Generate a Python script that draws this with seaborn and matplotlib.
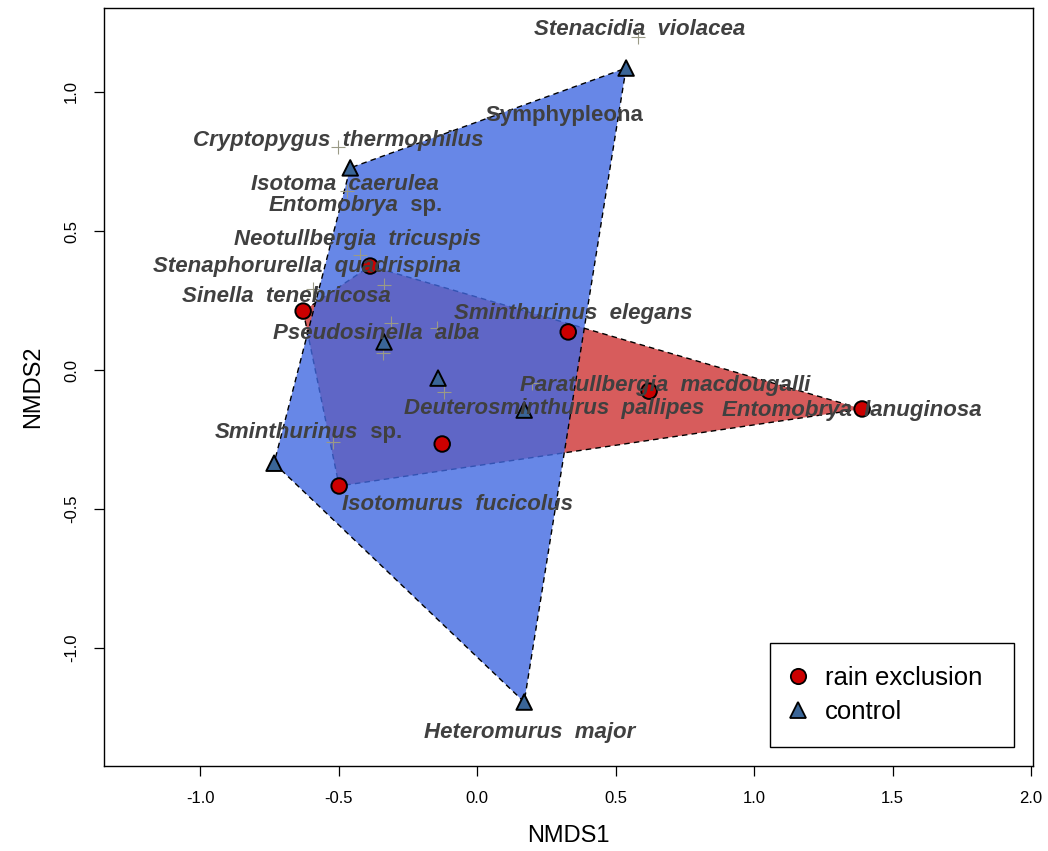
import numpy as np
import pandas as pd
import matplotlib
matplotlib.use("Agg")
import matplotlib.pyplot as plt
from matplotlib.lines import Line2D
import seaborn as sns

# --- site scores (NMDS1, NMDS2) ---
rain_x = [-0.386, -0.628, 0.329, 0.621, 1.390, -0.126, -0.498]
rain_y = [0.374, 0.212, 0.137, -0.076, -0.140, -0.266, -0.417]
ctrl_x = [0.538, -0.458, -0.336, -0.141, 0.170, -0.733, 0.170]
ctrl_y = [1.086, 0.727, 0.101, -0.029, -0.144, -0.335, -1.194]

# --- species scores drawn as "+" ---
sp_x = [0.581, -0.502, -0.469, -0.422, -0.336, -0.592, -0.310, -0.144, -0.339,
        -0.119, 0.199, -0.520]
sp_y = [1.198, 0.802, 0.644, 0.414, 0.306, 0.291, 0.169, 0.151, 0.061,
        -0.079, -0.047, -0.259]

# --- species labels (name, upright suffix, position) ---
lab_names = ["Stenacidia  violacea", "Symphypleona", "Cryptopygus  thermophilus",
             "Isotoma  caerulea", "Entomobrya", "Neotullbergia  tricuspis",
             "Stenaphorurella  quadrispina", "Sinella  tenebricosa",
             "Pseudosinella  alba", "Sminthurinus  elegans",
             "Paratullbergia  macdougalli", "Deuterosminthurus  pallipes",
             "Entomobrya  lanuginosa", "Sminthurinus", "Isotomurus  fucicolus",
             "Heteromurus  major"]
lab_suffix = ["", "", "", "", "  sp.", "", "", "", "", "", "", "", "", "  sp.", "", ""]
lab_italic = [True, False, True, True, True, True, True, True, True, True, True,
              True, True, True, True, True]
lab_x = [0.585, 0.314, -0.502, -0.477, -0.440, -0.433, -0.614, -0.690, -0.365,
         0.347, 0.679, 0.278, 1.354, -0.610, -0.069, 0.188]
lab_y = [1.223, 0.914, 0.824, 0.669, 0.590, 0.468, 0.371, 0.263, 0.133,
         0.205, -0.054, -0.140, -0.147, -0.223, -0.482, -1.302]

groups = ["rain exclusion", "control"]

sites = pd.DataFrame({
    "NMDS1": rain_x + ctrl_x,
    "NMDS2": rain_y + ctrl_y,
    "treatment": [groups[0]] * len(rain_x) + [groups[1]] * len(ctrl_x),
})

sns.set_style("white")
plt.rcParams["font.family"] = ["Liberation Sans", "DejaVu Sans"]
plt.rcParams["text.color"] = "black"
plt.rcParams["axes.labelcolor"] = "black"
plt.rcParams["xtick.color"] = "black"
plt.rcParams["ytick.color"] = "black"


def convex_hull(x, y):
    pts = sorted(set(zip(x, y)))

    def cross(o, a, b):
        return (a[0] - o[0]) * (b[1] - o[1]) - (a[1] - o[1]) * (b[0] - o[0])

    lower, upper = [], []
    for p in pts:
        while len(lower) >= 2 and cross(lower[-2], lower[-1], p) <= 0:
            lower.pop()
        lower.append(p)
    for p in reversed(pts):
        while len(upper) >= 2 and cross(upper[-2], upper[-1], p) <= 0:
            upper.pop()
        upper.append(p)
    return np.array(lower[:-1] + upper[:-1])


fig = plt.figure(figsize=(10.48, 8.51), dpi=100)
ax = fig.add_axes([104 / 1048, 1 - 766 / 851, 929 / 1048, 758 / 851])

# hulls: rain exclusion beneath, control semi-transparent over it
hull_r = convex_hull(rain_x, rain_y)
ax.fill(hull_r[:, 0], hull_r[:, 1], facecolor="#CD3333", alpha=0.8,
        edgecolor="none", zorder=1)
ax.fill(hull_r[:, 0], hull_r[:, 1], facecolor="none", edgecolor="black",
        linestyle=(0, (4, 3)), linewidth=1.0, zorder=1.1)
hull_c = convex_hull(ctrl_x, ctrl_y)
ax.fill(hull_c[:, 0], hull_c[:, 1], facecolor="#4169E1", alpha=0.8,
        edgecolor="none", zorder=2)
ax.fill(hull_c[:, 0], hull_c[:, 1], facecolor="none", edgecolor="black",
        linestyle=(0, (4, 3)), linewidth=1.0, zorder=2.1)

# species crosses
ax.scatter(sp_x, sp_y, marker="+", s=110, color="#9a9a86", linewidths=0.8, zorder=3)

# site points
palette = {"rain exclusion": "#CC0000", "control": "#3A6597"}
markers = {"rain exclusion": "o", "control": "^"}
sns.scatterplot(data=sites, x="NMDS1", y="NMDS2", hue="treatment", style="treatment",
                palette=palette, markers=markers, s=125, edgecolor="black",
                linewidth=1.4, legend=False, ax=ax, zorder=4)

# species labels
label_kw = dict(fontsize=16, fontweight="bold", color="#404040", zorder=5)
pairs = []
for name, suf, it, x, y in zip(lab_names, lab_suffix, lab_italic, lab_x, lab_y):
    style = "italic" if it else "normal"
    if suf:
        t1 = ax.text(x, y, name, ha="left", va="center", fontstyle=style, **label_kw)
        t2 = ax.annotate(suf, xy=(1, 0), xycoords=t1, ha="left", va="bottom",
                         fontstyle="normal", **label_kw)
        pairs.append((t1, t2, x, y))
    else:
        ax.text(x, y, name, ha="center", va="center", fontstyle=style, **label_kw)

ax.set_xlim(-1.347, 2.007)
ax.set_ylim(-1.424, 1.302)
ax.set_xticks([-1.0, -0.5, 0.0, 0.5, 1.0, 1.5, 2.0])
ax.set_yticks([-1.0, -0.5, 0.0, 0.5, 1.0])
ax.set_xticklabels(["-1.0", "-0.5", "0.0", "0.5", "1.0", "1.5", "2.0"])
ax.set_yticklabels(["-1.0", "-0.5", "0.0", "0.5", "1.0"], rotation=90, va="center")
ax.tick_params(axis="both", direction="out", length=7, width=0.9, labelsize=12,
               color="black", labelcolor="black", bottom=True, left=True, pad=11)
ax.set_xlabel("NMDS1", fontsize=17, labelpad=14, color="black")
ax.set_ylabel("NMDS2", fontsize=17, labelpad=14, color="black")
for sp in ax.spines.values():
    sp.set_visible(True)
    sp.set_color("black")
    sp.set_linewidth(1.0)

handles = [
    Line2D([], [], marker="o", linestyle="none", markersize=11,
           markerfacecolor=palette["rain exclusion"], markeredgecolor="black",
           markeredgewidth=1.3),
    Line2D([], [], marker="^", linestyle="none", markersize=12,
           markerfacecolor=palette["control"], markeredgecolor="black",
           markeredgewidth=1.3),
]
leg = ax.legend(handles, groups, loc="upper left",
                bbox_to_anchor=(0.717, 0.025, 0.2625, 0.137), mode="expand",
                borderaxespad=0, fontsize=18.5, frameon=True, fancybox=False,
                edgecolor="black", framealpha=1, borderpad=0.87, handletextpad=0.86,
                labelspacing=0.42, handlelength=0.4)
leg.get_frame().set_linewidth(1.0)
for txt in leg.get_texts():
    txt.set_color("black")

# centre labels that mix italic and upright parts
fig.canvas.draw()
renderer = fig.canvas.get_renderer()
for t1, t2, x, y in pairs:
    w = t1.get_window_extent(renderer).width + t2.get_window_extent(renderer).width
    cx, cy = ax.transData.transform((x, y))
    nx, _ = ax.transData.inverted().transform((cx - w / 2, cy))
    t1.set_x(nx)

fig.savefig("out.png", dpi=100)
